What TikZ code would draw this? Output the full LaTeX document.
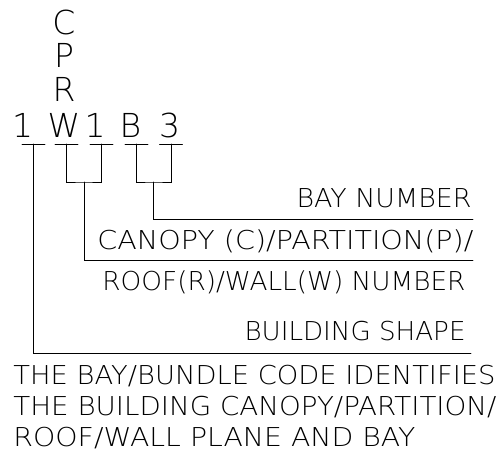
\documentclass[tikz,border=0pt]{standalone}
\usepackage{fontspec}
\newfontfamily\cadfont{DejaVuSans-ExtraLight}[Extension=.ttf]
\usepackage{tikz}
\usetikzlibrary{calc}
% stretch a label sideways to the width it has in the drawing
\newcommand{\fitw}[2]{\resizebox{#1}{\height}{#2}}

\begin{document}
\begin{tikzpicture}[x=1pt, y=-1pt, line width=0.9pt, line cap=round,
  code/.style={inner sep=0pt, anchor=base, font=\cadfont\fontsize{33}{33}\selectfont},
  lbl/.style={inner sep=0pt, font=\cadfont\fontsize{26}{26}\selectfont}]

  \useasboundingbox (0,0) rectangle (498,452);

  % Code characters
  \node[code] (shp)  at (22.5,137) {1};
  \node[code] (W)    at (64,137)   {W};
  \node[code] (R)    at (64,101)   {R};
  \node[code] (P)    at (64,68)    {P};
  \node[code] (C)    at (64,35)    {C};
  \node[code] (num)  at (95,137)   {1};
  \node[code] (B)    at (130.5,137) {B};
  \node[code] (bayn) at (169.5,137) {3};

  % Tick points under the characters
  \coordinate (s1) at (33.5,144);
  \coordinate (s2) at (66.5,144);
  \coordinate (s3) at (101.5,144);
  \coordinate (s4) at (136.5,144);
  \coordinate (s5) at (171,144);

  % Underlines
  \foreach \s in {s1,s2,s3,s4,s5}
    \draw ($(\s)+(-11.5,0)$) -- ($(\s)+(11.5,0)$);

  % Bracket joints
  \coordinate (j1) at ($(s2)!0.5!(s3)+(0,38)$);
  \coordinate (j2) at ($(s4)!0.5!(s5)+(0,38)$);

  % Line ends on the right
  \coordinate (e1) at (473,219);
  \coordinate (e2) at (473,260);
  \coordinate (e3) at (471,353);

  % Labels
  \node[lbl, anchor=base east] (baylbl)   at (472,207) {\fitw{175pt}{BAY NUMBER}};
  \node[lbl, anchor=base west] (canopy)   at (97,249)  {\fitw{376pt}{CANOPY (C)/PARTITION(P)/}};
  \node[lbl, anchor=base west] (roof)     at (102,290) {\fitw{363pt}{ROOF(R)/WALL(W) NUMBER}};
  \node[lbl, anchor=base east] (shplbl)   at (466,340) {\fitw{221pt}{BUILDING SHAPE}};

  % Note
  \node[lbl, anchor=base west] (note1) at (13,384) {\fitw{482pt}{THE BAY/BUNDLE CODE IDENTIFIES}};
  \node[lbl, anchor=base west] (note2) at (13,415.5) {\fitw{483pt}{THE BUILDING CANOPY/PARTITION/}};
  \node[lbl, anchor=base west] (note3) at (13,446.5) {\fitw{402pt}{ROOF/WALL PLANE AND BAY}};

  % Leaders
  \draw (s1) |- (e3);
  \draw (s2) |- (j1) -| (s3);
  \draw (j1) |- (e2);
  \draw (s4) |- (j2) -| (s5);
  \draw (j2) |- (e1);

\end{tikzpicture}
\end{document}
